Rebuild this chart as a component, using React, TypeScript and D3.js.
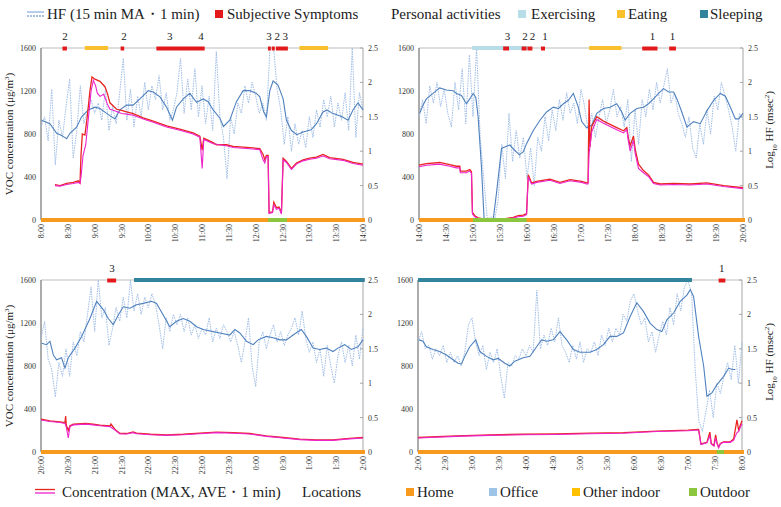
import React from "react";
import * as d3 from "d3";

type Pt = [number, number];

// ---------- Tick labels ----------
const VOC_TICKS = [0, 400, 800, 1200, 1600];
const HF_TICKS = [0, 0.5, 1, 1.5, 2, 2.5];
const TIMES_1 = ["8:00","8:30","9:00","9:30","10:00","10:30","11:00","11:30","12:00","12:30","13:00","13:30","14:00"];
const TIMES_2 = ["14:00","14:30","15:00","15:30","16:00","16:30","17:00","17:30","18:00","18:30","19:00","19:30","20:00"];
const TIMES_3 = ["20:00","20:30","21:00","21:30","22:00","22:30","23:00","23:30","0:00","0:30","1:00","1:30","2:00"];
const TIMES_4 = ["2:00","2:30","3:00","3:30","4:00","4:30","5:00","5:30","6:00","6:30","7:00","7:30","8:00"];

// ---------- HF 1-min values (every 4 min, log10 msec^2) ----------
const HF1_NOISY = [1.35,1.5,1.15,1.9,0.8,1.45,1.2,1.65,2.05,0.9,1.3,1.95,1.4,1.6,1.75,1.55,1.7,1.45,1.9,1.3,1.65,1.4,1.85,2.35,1.45,1.9,1.35,1.8,1.5,2.0,1.6,1.95,1.75,2.1,1.6,1.85,1.45,1.6,1.85,2.35,1.55,2.05,1.6,2.2,1.5,1.95,1.4,1.8,1.3,2.45,1.5,1.2,0.6,1.5,1.25,1.7,1.55,1.95,1.7,2.0,1.8,1.55,1.7,1.45,2.5,2.5,1.9,1.6,1.1,1.5,1.0,1.4,1.1,1.3,1.05,1.5,1.2,1.6,1.35,1.75,1.5,1.8,1.35,1.7,1.45,1.85,1.3,2.5,1.2,1.85,1.6];
const HF2_NOISY = [1.5,1.75,1.4,1.95,1.7,2.0,1.65,1.9,1.55,1.35,2.0,1.6,2.2,1.4,2.4,1.5,2.5,1.2,0.6,0.0,0.05,0.0,0.3,1.1,0.6,1.55,0.85,1.3,0.9,1.2,0.6,1.05,0.5,1.2,1.0,1.5,1.15,1.6,1.3,1.75,1.45,1.85,1.55,1.7,1.4,1.9,1.65,1.3,1.55,1.2,1.5,1.75,1.4,1.6,1.9,1.5,1.65,1.35,1.75,0.85,1.6,1.1,1.75,1.5,1.9,1.6,2.0,1.7,1.95,2.2,1.7,1.85,1.55,1.4,1.2,1.5,1.05,0.9,1.4,1.1,1.6,1.25,1.8,1.6,2.0,1.8,1.6,1.35,1.0,1.55,1.45];
const HF3_NOISY = [1.65,1.9,1.35,1.2,0.8,1.3,1.1,1.5,1.1,1.6,1.4,1.75,1.6,2.0,2.4,1.75,2.5,1.95,2.1,1.55,1.8,2.1,1.9,2.25,1.95,2.5,2.05,2.3,2.0,2.25,2.1,2.3,2.15,1.85,1.5,1.95,1.75,2.0,1.85,2.0,1.75,1.95,1.7,1.85,1.65,1.8,1.7,1.95,1.6,1.8,1.65,1.85,1.75,1.6,1.75,1.55,1.3,1.6,1.95,1.25,0.95,1.6,1.75,1.5,1.7,1.85,1.6,1.75,1.55,1.7,1.8,1.95,1.7,2.05,1.65,1.45,1.6,1.3,1.5,1.1,1.55,1.25,1.0,1.4,1.6,1.3,1.55,1.25,1.7,1.35,1.8];
const HF4_NOISY = [1.6,1.75,1.5,1.55,1.35,1.5,1.4,1.55,1.3,1.45,1.3,1.4,1.25,1.45,1.85,1.95,1.6,1.4,1.55,1.2,1.45,1.3,1.5,1.1,0.78,1.3,1.25,1.4,1.35,1.5,1.4,1.55,1.45,2.35,1.5,1.7,1.55,1.8,1.6,1.95,1.55,1.45,1.3,1.55,1.35,1.6,1.3,1.5,1.45,1.6,1.4,1.7,1.55,1.8,1.6,1.8,1.7,2.0,1.9,2.2,2.3,2.05,1.85,1.95,1.6,1.75,1.45,1.7,1.9,1.7,2.1,1.85,2.3,2.05,2.4,2.5,2.3,1.2,0.45,0.3,0.6,0.9,0.5,1.0,0.85,1.1,1.3,1.05,1.55,1.0,1.6];
const NOISY_STEP_MIN = 4;

// ---------- HF 15-min moving average [minute, value] ----------
const HF1_MA: Pt[] = [[0.7,1.45],[10,1.4],[17.5,1.26],[23,1.23],[28.7,1.18],[32.4,1.26],[39.8,1.35],[45.4,1.5],[52.9,1.6],[60.3,1.64],[65.9,1.62],[73.3,1.55],[82.7,1.47],[88.2,1.6],[95.7,1.67],[103,1.67],[110.6,1.76],[120,1.88],[125.5,1.86],[133,1.79],[140.4,1.64],[147,1.45],[151.5,1.64],[159,1.76],[166.4,1.84],[173.9,1.71],[181.3,1.76],[186.9,1.72],[192.5,1.6],[200,1.48],[204,1.36],[211,1.45],[218.5,1.72],[226,1.88],[233.4,1.88],[240.9,1.84],[244.6,1.79],[249,1.57],[252,1.5],[255.8,1.88],[259.5,2.02],[265,1.96],[270.7,1.76],[274.4,1.45],[280,1.3],[286,1.24],[293,1.28],[302,1.31],[308,1.4],[315.3,1.57],[319.6,1.6],[326,1.55],[336.7,1.5],[343.3,1.45],[348.8,1.6],[354.4,1.7],[360,1.6]];
const HF2_MA: Pt[] = [[0.7,1.55],[4.5,1.67],[8.2,1.76],[15.6,1.84],[23,1.92],[30.4,1.89],[37.9,1.88],[41.6,1.84],[47.1,1.81],[52.7,1.69],[56.4,1.76],[60.1,1.84],[63.1,1.78],[65.7,1.5],[69.4,0.77],[72.4,0.0],[80.5,0.0],[82.4,0.0],[86.1,0.39],[91.7,1.04],[95.4,1.06],[101,1.09],[106.5,1.01],[111.4,0.95],[115.8,0.99],[119.5,1.11],[127,1.3],[134.4,1.45],[141.8,1.57],[149.2,1.64],[154.8,1.62],[160.4,1.69],[166,1.74],[171.5,1.84],[177,1.64],[180.8,1.43],[186.3,1.34],[192,1.38],[197.5,1.55],[205,1.62],[212.3,1.64],[219.7,1.69],[225.3,1.57],[229,1.45],[234.6,1.55],[242,1.62],[249.4,1.64],[255,1.69],[260.6,1.76],[266.2,1.84],[271.7,1.91],[277.3,1.86],[282.9,1.86],[286.6,1.76],[292,1.57],[297.7,1.35],[305,1.43],[312.5,1.4],[320,1.59],[327.4,1.74],[334.8,1.84],[340.4,1.8],[346,1.64],[351.5,1.47],[355.2,1.47],[360,1.55]];
const HF3_MA: Pt[] = [[0.7,1.58],[6.3,1.56],[10,1.61],[13.8,1.41],[17.5,1.34],[23,1.37],[26.8,1.22],[30.5,1.37],[38,1.51],[45.4,1.68],[54.7,1.94],[62.2,2.19],[69.6,2.07],[75.2,1.94],[80.8,1.85],[86.4,1.99],[92,2.11],[99.4,2.09],[106.8,2.14],[114.3,2.16],[123.6,2.19],[129.2,2.16],[136.6,1.99],[144,1.82],[151.5,1.9],[159,1.94],[166.4,1.9],[173.9,1.82],[181.3,1.78],[192.5,1.75],[200,1.73],[211,1.7],[216.7,1.78],[222.3,1.73],[229.7,1.61],[237.2,1.56],[242.7,1.63],[252,1.68],[259.5,1.66],[267,1.63],[274.4,1.63],[281.8,1.7],[291.1,1.78],[296.7,1.68],[304.2,1.51],[311.6,1.49],[319,1.51],[326.5,1.46],[332,1.51],[339.5,1.56],[347,1.49],[354.4,1.53],[360,1.63]];
const HF4_MA: Pt[] = [[1.1,1.63],[5.6,1.61],[9.3,1.53],[16.7,1.49],[24.1,1.46],[31.6,1.41],[39,1.34],[44.5,1.29],[48.3,1.28],[52,1.39],[57.5,1.53],[64.2,1.63],[68.7,1.46],[76.1,1.39],[83.5,1.34],[89.1,1.36],[96.5,1.29],[102,1.25],[107.6,1.32],[117,1.37],[124.4,1.39],[131.8,1.53],[137.3,1.63],[143,1.61],[150.3,1.63],[157.8,1.75],[165.2,1.63],[172.6,1.49],[180,1.45],[191.2,1.45],[198.6,1.49],[206,1.56],[213.4,1.68],[220.9,1.68],[228.3,1.73],[235.7,1.97],[243.1,2.17],[250.6,2.04],[258,1.87],[265.4,1.78],[271,1.75],[276.5,1.92],[284,2.02],[291.4,2.19],[298.8,2.28],[302.5,2.36],[306.2,2.26],[311.8,1.68],[317.4,1.25],[321,0.81],[326.6,0.86],[332.2,0.98],[339.6,1.1],[345.2,1.22],[349,1.2],[352.6,1.2]];

// ---------- VOC concentration (µg/m³) [minute, value] ----------
const C1_MAX: Pt[] = [[15.6,330],[21.2,320],[28.7,340],[36.1,350],[41.7,365],[43.6,345],[44.7,600],[46.2,800],[49.1,790],[51.7,960],[54.7,1200],[57,1330],[60.3,1310],[65.9,1290],[71.5,1240],[74.1,1180],[77.1,1090],[80.8,1060],[84.5,1030],[90.1,1020],[95.7,1005],[103.1,990],[114.3,950],[125.5,920],[140.4,875],[155.2,845],[170.1,810],[177.6,780],[180.2,650],[182,760],[192.5,720],[196.2,700],[207.4,700],[214.8,685],[229.7,675],[244.6,665],[248.3,610],[250.2,560],[252,600],[253.9,600],[255,70],[258.8,75],[260.3,165],[263.2,115],[266.2,120],[268.8,65],[270.7,575],[274.4,545],[280,480],[285.6,530],[293,560],[300.4,575],[307.9,585],[315.3,610],[322.8,580],[337.7,565],[348.8,535],[360,520]];
const C1_AVE: Pt[] = [[15.6,320],[21.2,315],[28.7,330],[36.1,340],[41.7,350],[43.6,340],[44.7,400],[47,600],[50,700],[53,950],[56,1200],[58.5,1300],[61,1250],[63,1180],[66,1150],[70,1170],[72,1130],[74.1,1080],[77.1,1030],[80.8,1020],[84.5,1010],[90.1,990],[95.7,985],[103.1,975],[114.3,940],[125.5,910],[140.4,865],[155.2,835],[170.1,800],[177.6,770],[180.2,480],[182,750],[192.5,710],[207.4,690],[214.8,675],[229.7,665],[244.6,655],[248.3,560],[250.2,530],[252,590],[253.9,590],[255,60],[258.8,70],[260.3,140],[263.2,100],[266.2,110],[268.8,55],[270.7,560],[274.4,535],[280,470],[285.6,520],[293,550],[300.4,565],[307.9,575],[315.3,595],[322.8,570],[337.7,555],[348.8,525],[360,510]];
const C2_MAX: Pt[] = [[0,510],[8.2,525],[23,535],[34.1,515],[41.6,500],[45.3,500],[46,455],[52.7,455],[56.4,470],[58.3,450],[59.4,70],[62,40],[65.7,20],[71.3,10],[86.1,5],[97.3,15],[104.7,25],[110.2,40],[115.8,45],[119.5,60],[121.4,420],[125.1,345],[130.7,360],[145.5,380],[156.6,350],[167.8,375],[180.8,360],[186.3,345],[187.8,345],[189,1120],[190,680],[191.9,870],[197.5,960],[204.9,920],[212.3,890],[219.7,860],[227.2,830],[230.9,860],[232.7,760],[234.6,690],[238.3,780],[240.2,660],[243.9,520],[249.4,460],[255,420],[260.6,350],[268,335],[282.9,340],[301.4,335],[320,345],[338.5,320],[360,300]];
const C2_AVE: Pt[] = [[0,495],[8.2,510],[23,520],[34.1,500],[41.6,485],[45.3,485],[46,440],[52.7,440],[56.4,455],[58.3,435],[59.4,55],[62,30],[65.7,12],[71.3,5],[86.1,3],[97.3,10],[104.7,18],[110.2,30],[115.8,35],[119.5,50],[121.4,400],[125.1,335],[130.7,350],[145.5,370],[156.6,340],[167.8,365],[180.8,350],[186.3,335],[187.8,335],[189,620],[191.9,820],[197.5,935],[204.9,900],[212.3,870],[219.7,840],[227.2,810],[230.9,840],[232.7,730],[234.6,640],[238.3,740],[240.2,620],[243.9,480],[249.4,440],[255,405],[260.6,340],[268,325],[282.9,330],[301.4,325],[320,335],[338.5,312],[360,292]];
const C3_MAX: Pt[] = [[0,305],[10,290],[21.2,280],[26.8,272],[27.5,335],[28.3,250],[30.5,200],[32.4,245],[36.1,258],[50,265],[58.3,258],[65.9,250],[77.1,242],[78.2,260],[82.7,210],[88.2,175],[95.7,172],[103.1,187],[106.8,175],[122.6,165],[140.4,160],[159,165],[177.6,175],[196.2,185],[214.8,180],[233.4,172],[252,150],[270.7,135],[289.3,120],[307.9,113],[326.5,113],[341.4,125],[360,135]];
const C3_AVE: Pt[] = [[0,298],[10,284],[21.2,274],[26.8,266],[28.3,230],[30.5,130],[32.4,238],[36.1,252],[50,259],[58.3,252],[65.9,244],[77.1,236],[82.7,204],[88.2,169],[95.7,167],[103.1,180],[106.8,170],[122.6,160],[140.4,155],[159,160],[177.6,170],[196.2,180],[214.8,175],[233.4,167],[252,145],[270.7,130],[289.3,115],[307.9,108],[326.5,108],[341.4,120],[360,130]];
const C4_MAX: Pt[] = [[0,135],[42.7,150],[79.8,160],[116.9,165],[154,168],[191.2,175],[228.3,180],[265.4,195],[300,203],[311.8,210],[314.4,75],[321,90],[324.3,185],[325.8,80],[328.8,60],[330.7,160],[332.2,85],[334,45],[335.9,80],[339.6,95],[347,95],[350.7,120],[354.4,300],[356.3,200],[358.1,250],[360,290]];
const C4_AVE: Pt[] = [[0,130],[42.7,145],[79.8,155],[116.9,160],[154,163],[191.2,170],[228.3,175],[265.4,190],[300,198],[311.8,205],[314.4,70],[321,85],[324.3,150],[325.8,75],[328.8,55],[330.7,130],[332.2,80],[334,40],[335.9,75],[339.6,90],[347,90],[350.7,110],[354.4,180],[356.3,190],[358.1,230],[360,260]];

// ---------- Events [start min, end min] ----------
const SYM1: Pt[] = [[24,29],[89,93],[129,183],[253.7,257],[258,261.4],[262.6,276]];
const SYM2: Pt[] = [[93.5,100],[114,119.5],[120.5,126],[135.5,140],[248,265],[278,285.5]];
const SYM3: Pt[] = [[74,84]];
const SYM4: Pt[] = [[334,341.5]];
const SYM1_LABELS: [number, string][] = [[26.8,"2"],[92.8,"2"],[144,"3"],[179,"4"],[255,"3"],[264,"2"],[273,"3"]];
const SYM2_LABELS: [number, string][] = [[98.3,"3"],[117.8,"2"],[126,"2"],[140,"1"],[259.4,"1"],[281.7,"1"]];
const SYM3_LABELS: [number, string][] = [[79.4,"3"]];
const SYM4_LABELS: [number, string][] = [[337.4,"1"]];
const ACT1: [number, number, string][] = [[49,75,"eat"],[289,321,"eat"]];
const ACT2: [number, number, string][] = [[59,121,"ex"],[189,225,"eat"]];
const ACT3: [number, number, string][] = [[104,362,"sleep"]];
const ACT4: [number, number, string][] = [[0,304.4,"sleep"]];
const OUT1: Pt[] = [[254,275]];
const OUT2: Pt[] = [[60,119.5]];
const OUT3: Pt[] = [];
const OUT4: Pt[] = [[332,340]];

// ---------- styles ----------
const FONT = "'Liberation Serif', 'Times New Roman', serif";
const C_HF_MA = "#4f81bd";
const C_HF_1 = "#9fbde6";
const C_MAX = "#e8251f";
const C_AVE = "#ee22cc";
const C_SYM = "#e31a1c";
const ACT_COLOR: Record<string, string> = { ex: "#b7dde8", eat: "#fbc02d", sleep: "#31849b" };
const C_HOME = "#f79a1e";
const C_OFFICE = "#9dc3e6";
const C_OTHER = "#ffc000";
const C_OUT = "#8cc63f";

const PANELS = [
  { left: 41, right: 363, top: 48, bottom: 220, times: TIMES_1, noisy: HF1_NOISY, ma: HF1_MA, max: C1_MAX, ave: C1_AVE, sym: SYM1, symL: SYM1_LABELS, act: ACT1, out: OUT1, lt: true, rt: false },
  { left: 419, right: 743, top: 48, bottom: 220, times: TIMES_2, noisy: HF2_NOISY, ma: HF2_MA, max: C2_MAX, ave: C2_AVE, sym: SYM2, symL: SYM2_LABELS, act: ACT2, out: OUT2, lt: false, rt: true },
  { left: 41, right: 363, top: 280, bottom: 452, times: TIMES_3, noisy: HF3_NOISY, ma: HF3_MA, max: C3_MAX, ave: C3_AVE, sym: SYM3, symL: SYM3_LABELS, act: ACT3, out: OUT3, lt: true, rt: false },
  { left: 418, right: 742, top: 280, bottom: 452, times: TIMES_4, noisy: HF4_NOISY, ma: HF4_MA, max: C4_MAX, ave: C4_AVE, sym: SYM4, symL: SYM4_LABELS, act: ACT4, out: OUT4, lt: false, rt: true },
];

function Panel({ p }: { p: (typeof PANELS)[number] }) {
  const x = d3.scaleLinear().domain([0, 360]).range([p.left, p.right]);
  const yL = d3.scaleLinear().domain([0, 1600]).range([p.bottom, p.top]);
  const yR = d3.scaleLinear().domain([0, 2.5]).range([p.bottom, p.top]);
  const lineHF = d3.line<Pt>().x((d) => x(d[0])).y((d) => yR(d[1]));
  const lineC = d3.line<Pt>().x((d) => x(d[0])).y((d) => yL(d[1]));
  const noisyPts: Pt[] = p.noisy.map((v, i) => [i * NOISY_STEP_MIN, v]);
  const midY = (p.top + p.bottom) / 2;
  return (
    <g>
      <line x1={p.left} x2={p.right} y1={p.top} y2={p.top} stroke="#bdbdbd" strokeWidth={1} />
      <line x1={p.right} x2={p.right} y1={p.top} y2={p.bottom} stroke="#a6a6a6" strokeWidth={1} />
      <line x1={p.left} x2={p.left} y1={p.top} y2={p.bottom} stroke="#595959" strokeWidth={1} />
      {HF_TICKS.map((t) => (
        <g key={"r" + t}>
          <line x1={p.right} x2={p.right - 3} y1={yR(t)} y2={yR(t)} stroke="#a6a6a6" />
          <text x={p.right + 5} y={yR(t) + 3} fontSize={8} fontFamily={FONT} fill="#333">{String(t)}</text>
        </g>
      ))}
      {VOC_TICKS.map((t) => (
        <text key={"l" + t} x={p.left - 5} y={yL(t) + 3} fontSize={8} fontFamily={FONT} fill="#333" textAnchor="end">{String(t)}</text>
      ))}
      {p.times.map((lab, i) => {
        const xx = x(i * 30) + 3;
        return (
          <text key={lab + i} transform={`translate(${xx},${p.bottom + 4}) rotate(-90)`} fontSize={8} fontFamily={FONT} fill="#333" textAnchor="end">{lab}</text>
        );
      })}
      <path d={lineHF(noisyPts) || ""} fill="none" stroke={C_HF_1} strokeWidth={1} strokeDasharray="1.5,1" />
      <path d={lineHF(p.ma) || ""} fill="none" stroke={C_HF_MA} strokeWidth={1.1} />
      <path d={lineC(p.max) || ""} fill="none" stroke={C_MAX} strokeWidth={1.3} />
      <path d={lineC(p.ave) || ""} fill="none" stroke={C_AVE} strokeWidth={1.1} />
      {p.act.map((a, i) => (
        <rect key={"a" + i} x={x(a[0])} width={x(a[1]) - x(a[0])} y={p.top - 2} height={4} fill={ACT_COLOR[a[2]]} />
      ))}
      {p.sym.map((s, i) => (
        <rect key={"s" + i} x={x(s[0])} width={x(s[1]) - x(s[0])} y={p.top - 1.5} height={4} fill={C_SYM} />
      ))}
      {p.symL.map((s, i) => (
        <text key={"sl" + i} x={x(s[0])} y={p.top - 8} fontSize={11} fontFamily={FONT} textAnchor="middle" fill="#222">{s[1]}</text>
      ))}
      <rect x={p.left} width={p.right - p.left + 2} y={p.bottom - 2} height={4} fill={C_HOME} />
      {p.out.map((o, i) => (
        <rect key={"o" + i} x={x(o[0])} width={x(o[1]) - x(o[0])} y={p.bottom - 2} height={4} fill={C_OUT} />
      ))}
      {p.lt && (
        <text transform={`translate(13,${midY}) rotate(-90)`} fontSize={11} fontFamily={FONT} textAnchor="middle" fill="#222">
          VOC concentration (μg/m<tspan baselineShift="super" fontSize={7}>3</tspan>)
        </text>
      )}
      {p.rt && (
        <text transform={`translate(773,${midY - 4}) rotate(-90)`} fontSize={11} fontFamily={FONT} textAnchor="middle" fill="#222">
          Log<tspan baselineShift="sub" fontSize={7}>10</tspan> HF (msec<tspan baselineShift="super" fontSize={7}>2</tspan>)
        </text>
      )}
    </g>
  );
}

function Sq({ x, y, c }: { x: number; y: number; c: string }) {
  return <rect x={x} y={y - 4} width={8} height={8} fill={c} />;
}

export default function App() {
  const lf = { fontSize: 15, fontFamily: FONT, fill: "#222" } as const;
  return (
    <svg width={781} height={507} style={{ position: "absolute", left: 0, top: 0, background: "#fff" }}>
      <rect width={781} height={507} fill="#fff" />
      {/* top legend */}
      <line x1={27} x2={44} y1={12} y2={12} stroke={C_HF_1} strokeWidth={1.5} />
      <line x1={27} x2={44} y1={16} y2={16} stroke={C_HF_MA} strokeWidth={1.2} strokeDasharray="2,1" />
      <text x={47} y={19} {...lf}>HF (15 min MA・1 min)</text>
      <Sq x={215} y={14} c={C_SYM} />
      <text x={227} y={19} {...lf}>Subjective Symptoms</text>
      <text x={391} y={19} {...lf}>Personal activities</text>
      <Sq x={518} y={14} c={ACT_COLOR.ex} />
      <text x={531} y={19} {...lf}>Exercising</text>
      <Sq x={617} y={14} c={ACT_COLOR.eat} />
      <text x={628} y={19} {...lf}>Eating</text>
      <Sq x={700} y={14} c={ACT_COLOR.sleep} />
      <text x={710} y={19} {...lf}>Sleeping</text>

      {PANELS.map((p, i) => <Panel key={i} p={p} />)}

      {/* bottom legend */}
      <line x1={35} x2={55} y1={489.5} y2={489.5} stroke={C_MAX} strokeWidth={1.3} />
      <line x1={35} x2={55} y1={493} y2={493} stroke={C_AVE} strokeWidth={1.3} />
      <text x={62} y={497} {...lf}>Concentration (MAX, AVE・1 min)</text>
      <text x={302} y={497} {...lf}>Locations</text>
      <Sq x={406} y={492} c={C_HOME} />
      <text x={417} y={497} {...lf}>Home</text>
      <Sq x={489} y={492} c={C_OFFICE} />
      <text x={500} y={497} {...lf}>Office</text>
      <Sq x={572} y={492} c={C_OTHER} />
      <text x={583} y={497} {...lf}>Other indoor</text>
      <Sq x={689} y={492} c={C_OUT} />
      <text x={700} y={497} {...lf}>Outdoor</text>
    </svg>
  );
}
